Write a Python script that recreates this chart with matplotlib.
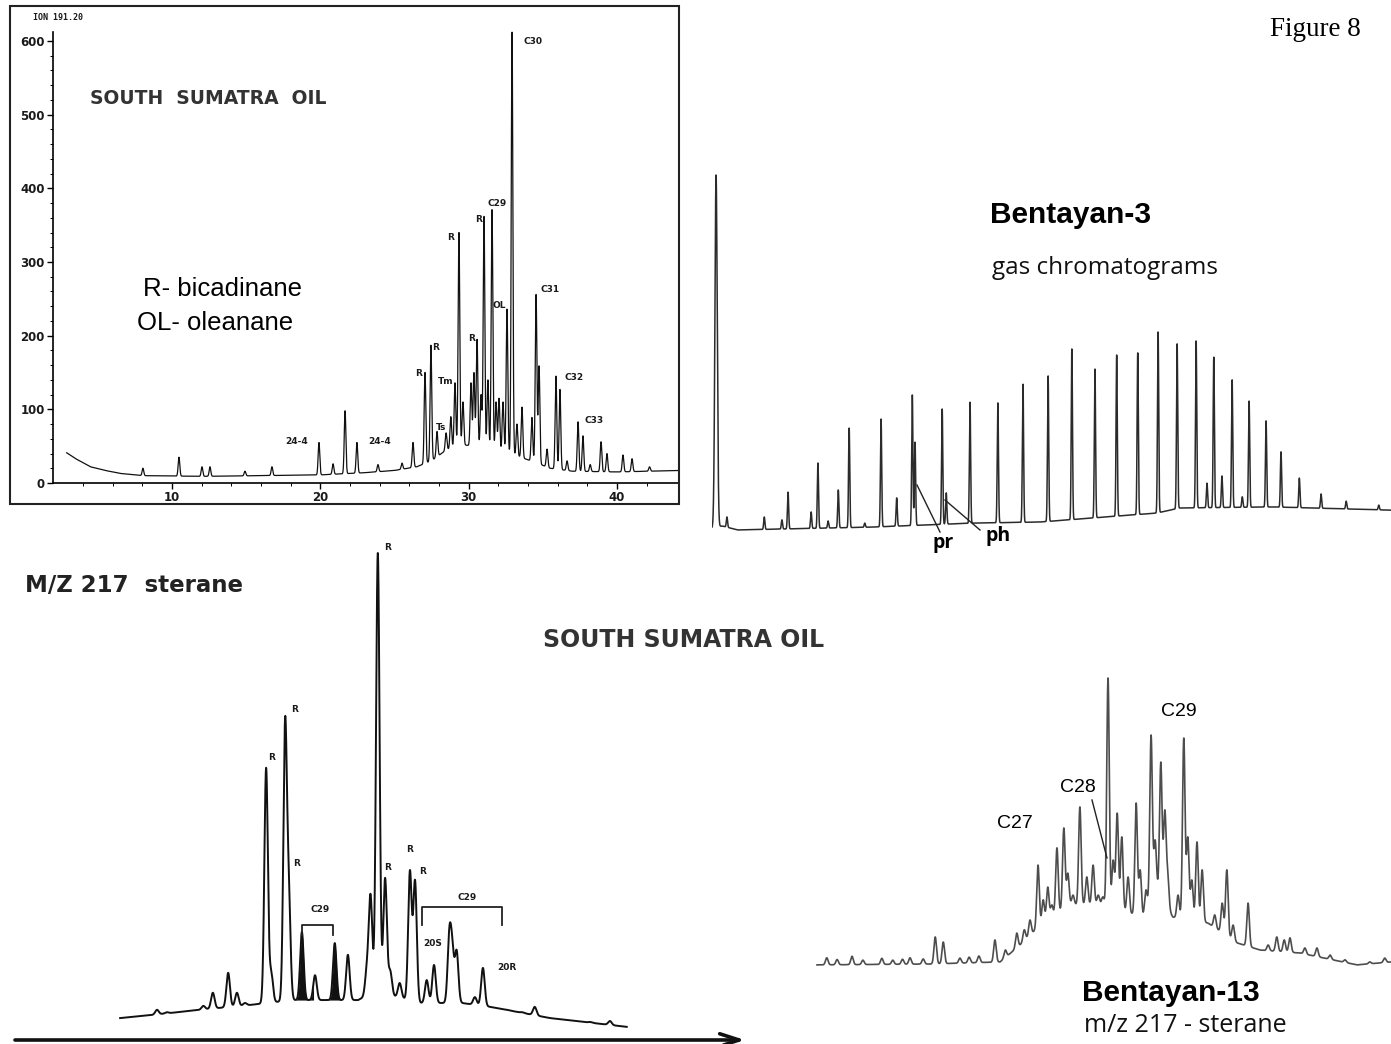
import matplotlib
matplotlib.use('Agg')
import matplotlib.pyplot as plt
import numpy as np
from matplotlib.lines import Line2D
from matplotlib.patches import Rectangle

W, H = 1391, 1044

# ---- data: peak tops (retention, height) and baseline knots ----
# top-left: ION 191.20 triterpane fragmentogram (x = minutes, y = abundance)
tl_peak_x = [8.04, 10.47, 12.02, 12.56, 14.92, 16.74, 19.91, 20.86, 21.67, 22.47,
             23.89, 25.51, 26.25, 27.06, 27.46, 27.87, 28.48, 28.80, 29.08, 29.35,
             29.62, 30.16, 30.36, 30.57, 30.84, 31.04, 31.30, 31.58, 31.85, 32.05,
             32.32, 32.59, 32.93, 33.26, 33.60, 34.27, 34.55, 34.75, 35.29, 35.89,
             36.16, 36.64, 37.38, 37.71, 38.20, 38.93, 39.33, 40.41, 41.02, 42.20]
tl_peak_h = [20, 35, 22, 22, 16, 22, 55, 26, 98, 55,
             25, 27, 55, 150, 187, 70, 68, 90, 136, 340,
             110, 136, 150, 195, 120, 362, 140, 371, 110, 115,
             110, 236, 612, 80, 103, 89, 256, 159, 46, 145,
             127, 30, 83, 64, 25, 56, 40, 38, 33, 22]
tl_base_x = [2.9, 3.5, 4.5, 5.5, 6.5, 8, 12, 16, 20, 23, 25, 26.5, 27.5, 28.5,
             29.5, 30.5, 31.5, 32.5, 33.5, 34.5, 35.5, 37, 40, 44.2]
tl_base_y = [41, 33, 22, 17, 13, 10, 9, 10, 11, 14, 17, 22, 30, 45,
             52, 50, 45, 42, 35, 28, 20, 16, 15, 17]
tl_yticks = [0, 100, 200, 300, 400, 500, 600]
tl_xticks = [10, 20, 30, 40]

# top-right: Bentayan-3 whole-oil gas chromatogram (relative units)
tr_peak_x = [0.6, 2.2, 7.7, 10.3, 11.2, 14.6, 15.6, 17.1, 18.6, 20.2, 22.5, 24.9,
             27.2, 29.5, 29.9, 33.9, 34.5, 38.0, 42.1, 45.8, 49.5, 53.0, 56.4,
             59.6, 62.7, 65.7, 68.5, 71.3, 72.9, 73.9, 75.1, 76.6, 78.1, 79.1,
             81.6, 83.8, 86.5, 89.7, 93.4, 98.2]
tr_peak_h = [100, 5, 5, 4.2, 11.9, 6.4, 20, 3.9, 12.5, 29.7, 3.3, 32.2,
             10.3, 38.9, 25.8, 35, 11.7, 36.9, 36.7, 41.9, 44.2, 51.7, 46.1,
             50, 50.6, 56.4, 53.1, 53.9, 14.4, 49.4, 16.4, 43.1, 10.6, 37.2,
             31.7, 23.1, 15.8, 11.4, 9.4, 8.3]
tr_base_x = [0, 1.5, 3.8, 23.6, 38.3, 48.3, 65.5, 68.9, 82.6, 100]
tr_base_y = [2.0, 2.5, 1.4, 2.2, 3.3, 3.6, 6.1, 7.5, 7.8, 6.9]

# bottom-left: South Sumatra oil m/z 217 sterane fragmentogram
bl_peak_x = [19.45, 20.8, 23.6, 25.8, 27.1, 29.2, 30.4, 31.5, 34.4, 35.1, 37.0,
             37.5, 39.3, 41.1, 43.8, 45.6, 48.2, 48.7, 49.7, 50.7, 51.4, 52.7,
             54.1, 54.8, 56.4, 57.4, 59.5, 59.9, 60.5, 63.0, 64.1, 67.4, 69.5,
             71.2, 74.7, 78.8, 81.5]
bl_peak_h = [6.2, 5.7, 5.7, 7.0, 9.7, 13.8, 9.7, 7.6, 55.9, 14.4, 66.3,
             35.3, 22.2, 13.3, 19.9, 17.5, 16.4, 30.0, 100, 33.3, 14.4, 11.7,
             34.9, 32.9, 12.3, 15.4, 23.2, 21.1, 18.5, 8.8, 14.8, 6.2, 5.7,
             6.8, 4.1, 3.7, 3.9]
bl_base_x = [14.4, 18.5, 25.3, 32.2, 38.1, 47.0, 49.3, 55.5, 61.2, 65.1, 73.3, 83.8]
bl_base_y = [4.5, 5.1, 6.2, 7.2, 8.2, 8.2, 10.0, 7.6, 7.6, 6.8, 4.5, 2.7]

# bottom-right: Bentayan-13 m/z 217 sterane fragmentogram
br_peak_x = [1.7, 3.5, 6.1, 8.0, 11.3, 13.2, 14.9, 16.2, 18.5, 20.6, 22.0, 24.9,
             26.5, 28.2, 31.0, 32.8, 34.8, 36.1, 37.1, 38.5, 39.4, 40.2, 40.9,
             41.8, 43.0, 43.7, 44.6, 45.8, 47.0, 48.1, 49.0, 49.8, 50.7, 51.6,
             52.3, 53.1, 54.2, 55.6, 56.3, 57.3, 58.2, 58.9, 59.9, 60.6, 61.1,
             62.9, 63.9, 64.6, 65.3, 66.2, 67.1, 68.1, 69.3, 70.6, 71.4, 72.5,
             73.2, 75.1, 76.7, 78.6, 80.1, 81.4, 82.4, 85.0, 87.1, 89.4, 92.0,
             96.3, 98.9]
br_peak_h = [5.8, 5.2, 6.3, 5.0, 5.6, 5.0, 5.3, 5.8, 5.4, 12.8, 11.1, 5.7,
             6.0, 6.4, 11.8, 8.4, 14.1, 15.2, 18.5, 37.0, 25.3, 29.6, 23.6,
             42.8, 49.5, 34.3, 26.9, 56.6, 33.0, 37.0, 26.9, 26.3, 100, 38.7,
             54.5, 46.5, 33.0, 57.9, 35.4, 28.6, 80.8, 45.5, 71.7, 55.6, 35.4,
             26.9, 79.8, 46.5, 32.0, 44.8, 35.4, 17.5, 20.2, 24.2, 35.4, 16.8,
             10.8, 24.2, 8.4, 10.1, 12.8, 11.8, 12.5, 9.1, 9.1, 6.7, 5.1,
             4.4, 5.7]
br_base_x = [0, 19.7, 31.9, 35.4, 38.9, 44.1, 49.3, 56.8, 59.2, 62.0, 68.1, 73.2,
             77.2, 84.1, 94.1, 100]
br_base_y = [3.4, 3.7, 4.4, 10.1, 16.8, 23.6, 23.6, 19.5, 28.6, 19.5, 17.5, 10.8,
             8.4, 7.4, 3.4, 4.4]


def px_rect(l, t, r, b):
    return [l / W, 1 - b / H, (r - l) / W, (b - t) / H]


def trace(x, peak_x, peak_h, base_x, base_y, sigma):
    # baseline through the knots, gaussian peaks scaled so each top hits its read height
    px_ = np.asarray(peak_x, dtype=float)
    sig = np.broadcast_to(np.asarray(sigma, dtype=float), px_.shape)
    base = np.interp(x, base_x, base_y)
    need = np.asarray(peak_h) - np.interp(px_, base_x, base_y)
    g = np.exp(-0.5 * ((px_[:, None] - px_[None, :]) / sig[None, :]) ** 2)
    amp = np.clip(np.linalg.solve(g, need), 0, None)
    y = base + (amp[:, None] * np.exp(-0.5 * ((x[None, :] - px_[:, None]) / sig[:, None]) ** 2)).sum(0)
    return y, base


fig = plt.figure(figsize=(W / 100, H / 100), dpi=100)
fig.patch.set_facecolor('white')


def ftext(px, py, s, ha='left', va='center', **kw):
    fig.text(px / W, 1 - py / H, s, ha=ha, va=va, **kw)


def fline(x0, y0, x1, y1, **kw):
    fig.add_artist(Line2D([x0 / W, x1 / W], [1 - y0 / H, 1 - y1 / H],
                          transform=fig.transFigure, **kw))


mono = dict(family='DejaVu Sans Mono', weight='bold', color='#1a1a1a')
ticks = dict(family='DejaVu Sans', weight='bold', color='#1a1a1a')
small = dict(family='DejaVu Sans', weight='bold', fontsize=6.5, color='#1a1a1a')

# ---- top-left panel ----
ax1 = fig.add_axes(px_rect(53, 8, 678, 483))
x1 = np.linspace(2.9, 44.1, 16000)
y1, _ = trace(x1, tl_peak_x, tl_peak_h, tl_base_x, tl_base_y, 0.055)
ax1.plot(x1, y1, color='#111111', lw=0.9)
ax1.set_xlim(10 + (53 - 172) / 14.83, 10 + (678 - 172) / 14.83)
ax1.set_ylim(0, 475 / 0.7367)
for s in ['top', 'right']:
    ax1.spines[s].set_visible(False)
ax1.spines['left'].set_bounds(0, 612)
ax1.spines['left'].set_linewidth(1.2)
ax1.spines['bottom'].set_linewidth(1.2)
ax1.set_yticks(tl_yticks)
ax1.set_yticks(np.arange(0, 620, 20), minor=True)
ax1.set_xticks(tl_xticks)
ax1.set_xticks(np.arange(4, 44, 2), minor=True)
ax1.tick_params(axis='both', which='major', length=4, width=1, pad=2)
ax1.tick_params(axis='both', which='minor', length=2, width=0.7)
ax1.set_yticklabels([str(v) for v in tl_yticks], fontsize=8.5, **ticks)
ax1.set_xticklabels([str(v) for v in tl_xticks], fontsize=8.5, **ticks)
fig.add_artist(Rectangle((10 / W, 1 - 504 / H), 669 / W, 498 / H, transform=fig.transFigure,
                         fill=False, lw=1.5, edgecolor='#222222'))

ftext(33, 18, 'ION 191.20', fontsize=6, **mono)
ftext(90, 98, 'SOUTH  SUMATRA  OIL', fontsize=13.5, family='DejaVu Sans', weight='bold',
      color='#333333')
ftext(143, 289, 'R- bicadinane', fontsize=18.5, family='Liberation Sans', color='black')
ftext(137, 323, 'OL- oleanane', fontsize=18.5, family='Liberation Sans', color='black')
for s, px, py in [('C30', 533, 42), ('C29', 497, 204), ('R', 451, 237), ('R', 479, 219),
                  ('R', 472, 338), ('R', 436, 348), ('R', 419, 374), ('Tm', 446, 382),
                  ('Ts', 441, 427), ('OL', 499, 306), ('C31', 550, 290), ('C32', 574, 378),
                  ('C33', 594, 420), ('24-4', 297, 442), ('24-4', 380, 442)]:
    ftext(px, py, s, ha='center', **small)

# ---- top-right panel ----
ax2 = fig.add_axes(px_rect(712, 170, 1391, 540))
x2 = np.linspace(0, 100, 16000)
tr_sigma = [0.17] + [0.09] * (len(tr_peak_x) - 1)
y2, _ = trace(x2, tr_peak_x, tr_peak_h, tr_base_x, tr_base_y, tr_sigma)
ax2.plot(x2, y2, color='#2b2b2b', lw=1.1)
ax2.set_xlim(0, 100)
ax2.set_ylim(-5 / 3.6, 365 / 3.6)
ax2.axis('off')

ftext(1270, 30, 'Figure 8', fontsize=19.5, family='Liberation Serif', color='black')
ftext(990, 215, 'Bentayan-3', fontsize=21.5, family='Liberation Sans', weight='bold')
ftext(992, 268, 'gas chromatograms', fontsize=17.5, family='Open Sans', color='#111111')
ftext(943, 543, 'pr', ha='center', fontsize=14, family='Open Sans', weight='bold')
ftext(998, 536, 'ph', ha='center', fontsize=14, family='Open Sans', weight='bold')
fline(917, 485, 940, 532, color='#222222', lw=1)
fline(945, 500, 980, 530, color='#222222', lw=1)

# ---- bottom-left panel ----
ax3 = fig.add_axes(px_rect(15, 540, 745, 1044))
x3 = np.linspace(14.4, 83.8, 12000)
y3, b3 = trace(x3, bl_peak_x, bl_peak_h, bl_base_x, bl_base_y, 0.24)
ax3.plot(x3, y3, color='#111111', lw=1.4)
for lo, hi in [(38.4, 40.9), (42.9, 44.6)]:
    m = (x3 >= lo) & (x3 <= hi)
    ax3.fill_between(x3[m], b3[m], y3[m], color='#111111', lw=0)
ax3.annotate('', xy=(100, 0), xytext=(0, 0),
             arrowprops=dict(arrowstyle='->,head_length=1.4,head_width=0.45', lw=2.6,
                             color='#111111', shrinkA=0, shrinkB=0))
ax3.plot([39.3, 39.3, 43.6, 43.6], [21.6, 23.6, 23.6, 21.6], color='#222222', lw=1.3)
ax3.plot([55.8, 55.8, 66.7, 66.7], [23.6, 27.3, 27.3, 23.6], color='#222222', lw=1.3)
ax3.set_xlim(0, 100)
ax3.set_ylim(-4 / 4.87, 500 / 4.87)
ax3.axis('off')

ftext(25, 586, 'M/Z 217  sterane', fontsize=16.5, family='DejaVu Sans', weight='bold',
      color='#222222')
ftext(543, 640, 'SOUTH SUMATRA OIL', fontsize=17, family='DejaVu Sans', weight='bold',
      color='#333333')
for s, px, py in [('R', 272, 757), ('R', 295, 710), ('R', 297, 864), ('R', 388, 548),
                  ('R', 388, 868), ('R', 410, 850), ('R', 423, 872), ('C29', 320, 910),
                  ('C29', 467, 897), ('20S', 433, 943), ('20R', 507, 967)]:
    ftext(px, py, s, ha='center', **small)

# ---- bottom-right panel ----
ax4 = fig.add_axes(px_rect(812, 670, 1391, 980))
x4 = np.linspace(0, 100, 12000)
y4, _ = trace(x4, br_peak_x, br_peak_h, br_base_x, br_base_y, 0.22)
ax4.plot(x4, y4, color='#4d4d4d', lw=1.2)
ax4.set_xlim(-5 / 5.74, 100)
ax4.set_ylim(-5 / 2.97, 305 / 2.97)
ax4.axis('off')

ftext(1015, 824, 'C27', ha='center', fontsize=14, family='Liberation Sans')
ftext(1078, 787, 'C28', ha='center', fontsize=14, family='Liberation Sans')
ftext(1179, 711, 'C29', ha='center', fontsize=14, family='Liberation Sans')
fline(1092, 800, 1107, 858, color='#222222', lw=1)
ftext(1082, 993, 'Bentayan-13', fontsize=21.5, family='Liberation Sans', weight='bold')
ftext(1084, 1026, 'm/z 217 - sterane', fontsize=18, family='Open Sans', color='#111111')

fig.savefig('out.png', dpi=100, facecolor='white')
